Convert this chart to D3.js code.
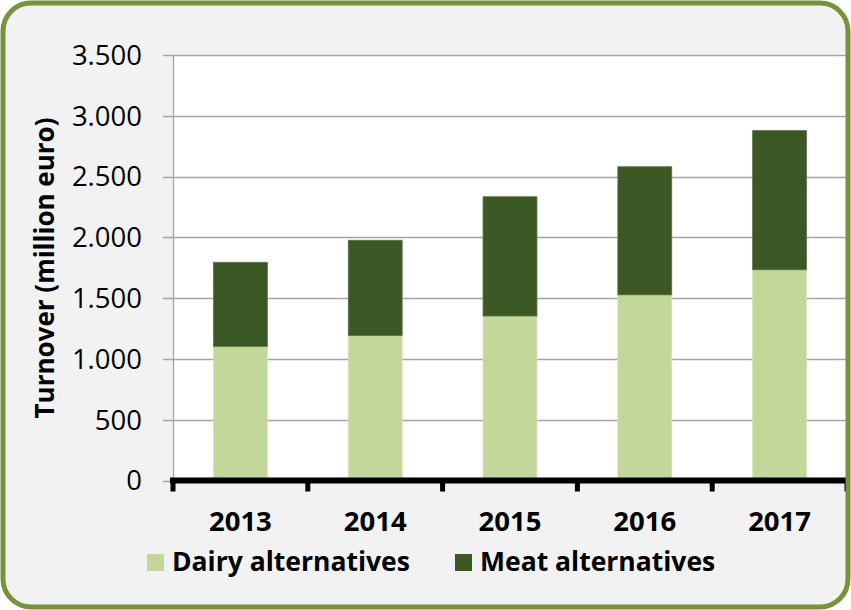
<!DOCTYPE html>
<html>
<head>
<meta charset="utf-8">
<script src="https://cdn.jsdelivr.net/npm/d3@7"></script>
<style>
html,body{margin:0;padding:0;background:#fff;}
svg{display:block;}
text{font-family:"Open Sans",sans-serif;fill:#000;}
</style>
</head>
<body>
<svg id="chart" width="851" height="610"></svg>
<script>
const categories = ["2013","2014","2015","2016","2017"];
const dairy = [1103, 1192, 1353, 1527, 1733];
const meat  = [692, 784, 981, 1054, 1145];
const seriesNames = ["Dairy alternatives","Meat alternatives"];
const yTicks = [0,500,1000,1500,2000,2500,3000,3500];
const yTickLabels = ["0","500","1.000","1.500","2.000","2.500","3.000","3.500"];
const colors = ["#C4D79B","#3B5723"];

(function(){
const svg = d3.select("#chart");
const W = 851, H = 610;

svg.append("rect").attr("x",3).attr("y",3).attr("width",W-6).attr("height",H-6)
  .attr("rx",28).attr("ry",28).attr("fill","#F2F2F2");

const pL = 173, pR = 847, pT = 55, pB = 480.5;
const x = d3.scaleBand().domain(categories).range([pL,pR]).paddingInner(0.6).paddingOuter(0.3);
const y = d3.scaleLinear().domain([0,3500]).range([pB, pT]);

svg.append("rect").attr("x",pL).attr("y",pT).attr("width",pR-pL).attr("height",pB-pT).attr("fill","#fff");

svg.append("g").selectAll("line").data(yTicks).join("line")
  .attr("x1",pL-10).attr("x2",pR).attr("y1",d=>Math.round(y(d))+0.5).attr("y2",d=>Math.round(y(d))+0.5)
  .attr("stroke","#A6A6A6").attr("stroke-width",1.3);
svg.append("line").attr("x1",pL+0.5).attr("x2",pL+0.5).attr("y1",pT).attr("y2",pB)
  .attr("stroke","#A6A6A6").attr("stroke-width",1.3);

svg.append("g").selectAll("text").data(yTicks).join("text")
  .attr("x",142).attr("y",d=>y(d)).attr("dy","0.36em").attr("text-anchor","end")
  .attr("font-size",27.5).text((d,i)=>yTickLabels[i]);

const table = categories.map((c,i)=>({cat:c, dairy:dairy[i], meat:meat[i]}));
const stack = d3.stack().keys(["dairy","meat"])(table);
svg.append("g").selectAll("g").data(stack).join("g")
  .attr("fill",(d,i)=>colors[i])
  .attr("stroke",(d,i)=>i===0?"#D3E2B5":"#5E7548").attr("stroke-width",0.8)
  .selectAll("rect").data(d=>d).join("rect")
  .attr("x",d=>x(d.data.cat)).attr("width",x.bandwidth())
  .attr("y",d=>y(d[1])).attr("height",d=>y(d[0])-y(d[1]));

svg.append("line").attr("x1",pL-3).attr("x2",pR+2).attr("y1",pB).attr("y2",pB)
  .attr("stroke","#000").attr("stroke-width",6);
const boundaries = categories.map(c=>x(c)-x.step()*x.paddingInner()/2).concat([pR]);
boundaries[0] = pL;
svg.append("g").selectAll("line").data(boundaries).join("line")
  .attr("x1",d=>d).attr("x2",d=>d).attr("y1",pB).attr("y2",pB+11)
  .attr("stroke","#000").attr("stroke-width",5);

svg.append("g").selectAll("text").data(categories).join("text")
  .attr("x",d=>x(d)+x.bandwidth()/2).attr("y",531).attr("text-anchor","middle")
  .attr("font-size",27.5).attr("font-weight","bold").text(d=>d);

svg.append("text").attr("transform","translate(54,268) rotate(-90)").attr("text-anchor","middle")
  .attr("font-size",26).attr("font-weight","bold").text("Turnover (million euro)");

const legendX = [147, 455];
const lg = svg.append("g").selectAll("g").data(seriesNames).join("g")
  .attr("transform",(d,i)=>`translate(${legendX[i]},554)`);
lg.append("rect").attr("width",17).attr("height",17).attr("fill",(d,i)=>colors[i]);
lg.append("text").attr("x",25).attr("y",17).attr("font-size",26.5).attr("font-weight","bold").text(d=>d);

svg.append("rect").attr("x",3).attr("y",3).attr("width",W-6).attr("height",H-6)
  .attr("rx",28).attr("ry",28).attr("fill","none").attr("stroke","#77933C").attr("stroke-width",5);
})();
</script>
</body>
</html>
